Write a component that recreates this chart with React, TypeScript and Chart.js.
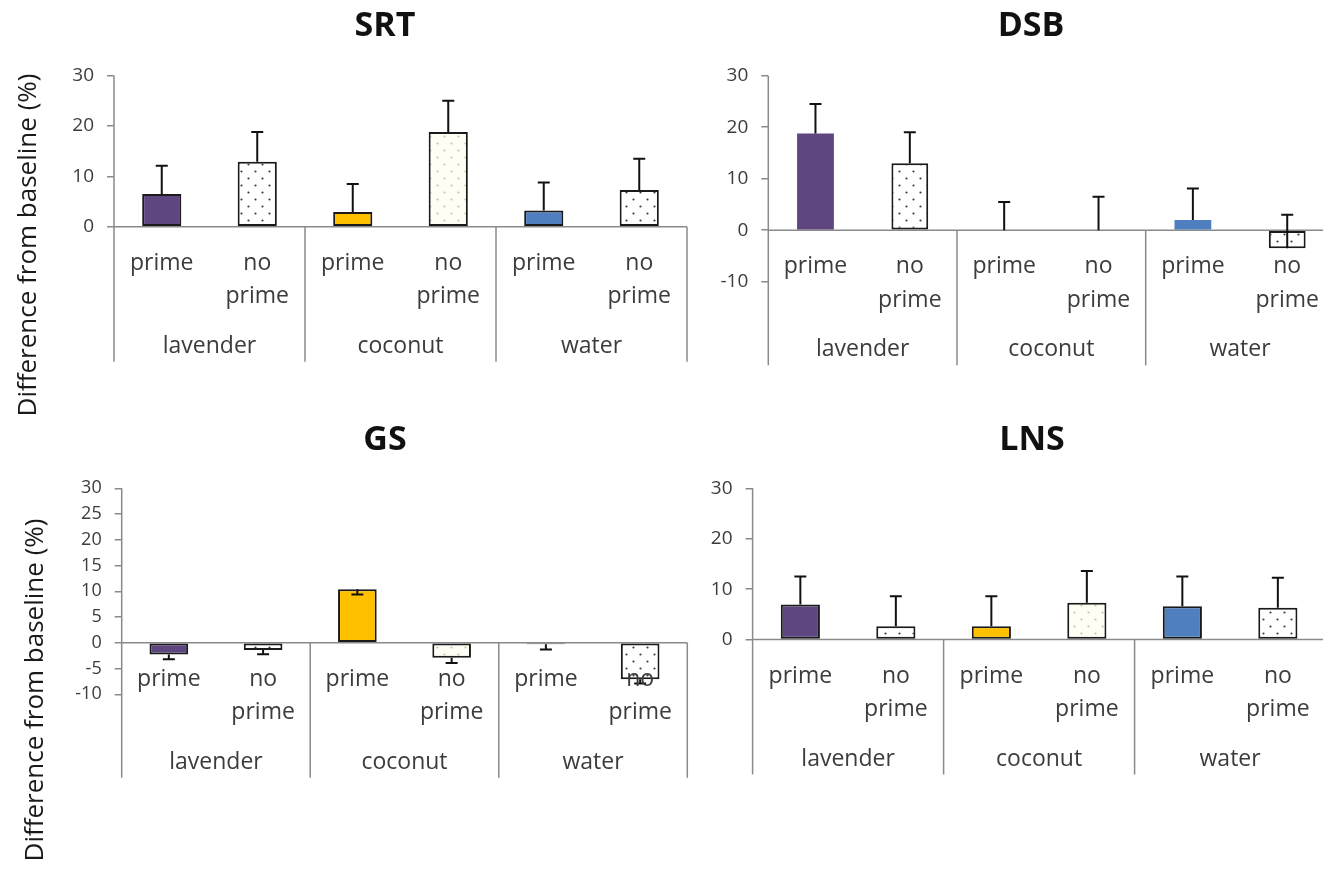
import React, { useEffect, useRef } from "react";
import { Chart, registerables } from "chart.js";

Chart.register(...registerables);

// ---------------- data ----------------
const categories = ["prime", "no prime", "prime", "no prime", "prime", "no prime"];
const groups = ["lavender", "coconut", "water"];
const yAxisTitle = "Difference from baseline (%)";

const srtValues = [6.5, 12.9, 2.9, 18.8, 3.2, 7.3];
const srtErrors = [5.6, 5.9, 5.6, 6.2, 5.6, 6.2];

const dsbValues = [18.8, 13.0, 0, 0, 2.0, -3.5];
const dsbErrors = [5.7, 6.0, 5.5, 6.5, 6.1, 6.5];

const gsValues = [-2.25, -1.4, 10.4, -2.9, -0.3, -7.1];
const gsErrors = [-0.95, -0.8, -1.0, -1.0, -1.0, -0.8];

const lnsValues = [6.95, 2.65, 2.65, 7.3, 6.6, 6.3];
const lnsErrors = [5.55, 5.95, 5.95, 6.3, 5.9, 5.95];

const srtTicks = { min: 0, max: 30, step: 10 };
const dsbTicks = { min: -10, max: 30, step: 10 };
const gsTicks = { min: -10, max: 30, step: 5 };
const lnsTicks = { min: 0, max: 30, step: 10 };

// ---------------- styles ----------------
const CW = 1400;
const CH = 880;
const YW = 80;
const FONT = "'Open Sans', sans-serif";
const AXIS = "#8a8a8a";
const TEXT = "#3c3c3c";
const PURPLE = "#5E4680";
const YELLOW = "#FFC000";
const BLUE = "#4F7FBE";
const DROP = 135;
const EDGE = "#1a1a1a";

type Panel = {
  title: string;
  values: number[];
  errors: number[];
  ticks: { min: number; max: number; step: number };
  tickFont: number;
  axisX: number;
  rightX: number;
  topY: number;
  bottomY: number;
  barPct: number;
  borderWidths: number[];
  titleX: number;
  titleY: number;
  yTitle?: { x: number; y: number };
};

const panels: Panel[] = [
  {
    title: "SRT", values: srtValues, errors: srtErrors, ticks: srtTicks, tickFont: 19,
    axisX: 114, rightX: 687, topY: 75.7, bottomY: 226.7, barPct: 0.41,
    borderWidths: [2, 2, 2, 2, 2, 2],
    titleX: 385, titleY: 26, yTitle: { x: 29, y: 245 },
  },
  {
    title: "DSB", values: dsbValues, errors: dsbErrors, ticks: dsbTicks, tickFont: 19,
    axisX: 768.3, rightX: 1334.4, topY: 75.7, bottomY: 281.7, barPct: 0.39,
    borderWidths: [0, 2, 0, 0, 0, 2],
    titleX: 1031, titleY: 26,
  },
  {
    title: "GS", values: gsValues, errors: gsErrors, ticks: gsTicks, tickFont: 18,
    axisX: 121.7, rightX: 687.3, topY: 488.3, bottomY: 694.3, barPct: 0.41,
    borderWidths: [2, 2, 2, 2, 2, 2],
    titleX: 385, titleY: 440, yTitle: { x: 36, y: 690 },
  },
  {
    title: "LNS", values: lnsValues, errors: lnsErrors, ticks: lnsTicks, tickFont: 19,
    axisX: 752.6, rightX: 1325.6, topY: 488.5, bottomY: 639.5, barPct: 0.41,
    borderWidths: [2, 2, 2, 2, 2, 2],
    titleX: 1032, titleY: 440,
  },
];

function dotPattern(bg: string, dot: string): CanvasPattern | string {
  const c = document.createElement("canvas");
  c.width = 14;
  c.height = 14;
  const g = c.getContext("2d");
  if (!g) return bg;
  g.fillStyle = bg;
  g.fillRect(0, 0, 14, 14);
  g.fillStyle = dot;
  g.beginPath();
  g.arc(3.5, 3.5, 1.1, 0, Math.PI * 2);
  g.arc(10.5, 10.5, 1.1, 0, Math.PI * 2);
  g.fill();
  const pat = g.createPattern(c, "repeat");
  return pat || bg;
}

function makePlugin(p: Panel) {
  return {
    id: "decor_" + p.title,
    beforeDatasetsDraw(chart: any) {
      const { ctx, chartArea, scales } = chart;
      const x = scales.x;
      const y = scales.y;
      const y0 = y.getPixelForValue(0);
      const n = categories.length;
      const step = x.getPixelForValue(1) - x.getPixelForValue(0);
      const left = x.getPixelForValue(0) - step / 2;
      const right = x.getPixelForValue(n - 1) + step / 2;
      ctx.save();
      ctx.strokeStyle = AXIS;
      ctx.lineWidth = 1.5;
      ctx.beginPath();
      ctx.moveTo(left, y0);
      ctx.lineTo(right, y0);
      ctx.moveTo(left, chartArea.top);
      ctx.lineTo(left, y0 + DROP);
      const per = n / groups.length;
      for (let g = 1; g <= groups.length; g++) {
        const xb = left + g * per * step;
        ctx.moveTo(xb, y0);
        ctx.lineTo(xb, y0 + DROP);
      }
      ctx.stroke();
      ctx.restore();
    },
    afterDatasetsDraw(chart: any) {
      const { ctx, scales } = chart;
      const x = scales.x;
      const y = scales.y;
      ctx.save();
      ctx.strokeStyle = "#111";
      ctx.lineWidth = 2;
      p.values.forEach((v, i) => {
        const xp = x.getPixelForValue(i);
        const yv = y.getPixelForValue(v);
        const ye = y.getPixelForValue(v + p.errors[i]);
        ctx.beginPath();
        ctx.moveTo(xp, yv);
        ctx.lineTo(xp, ye);
        ctx.moveTo(xp - 6, ye);
        ctx.lineTo(xp + 6, ye);
        ctx.stroke();
      });
      ctx.restore();
    },
    afterDraw(chart: any) {
      const { ctx, scales } = chart;
      const x = scales.x;
      const y = scales.y;
      const y0 = y.getPixelForValue(0);
      ctx.save();
      ctx.fillStyle = TEXT;
      ctx.textAlign = "center";
      ctx.textBaseline = "alphabetic";
      ctx.font = `23px ${FONT}`;
      categories.forEach((c, i) => {
        const xp = x.getPixelForValue(i);
        const lines = c.split(" ");
        lines.forEach((ln, k) => {
          ctx.fillText(ln, xp, y0 + 43 + k * 33.5);
        });
      });
      const per = categories.length / groups.length;
      groups.forEach((g, gi) => {
        const a = x.getPixelForValue(gi * per);
        const b = x.getPixelForValue(gi * per + per - 1);
        ctx.fillText(g, (a + b) / 2, y0 + 126);
      });
      // title
      ctx.fillStyle = "#111";
      ctx.font = `bold 34px ${FONT}`;
      ctx.textBaseline = "middle";
      ctx.fillText(p.title, p.titleX, p.titleY);
      if (p.yTitle) {
        ctx.save();
        ctx.translate(p.yTitle.x, p.yTitle.y);
        ctx.rotate(-Math.PI / 2);
        ctx.font = `26px ${FONT}`;
        ctx.fillStyle = "#1a1a1a";
        ctx.fillText(yAxisTitle, 0, 0);
        ctx.restore();
      }
      ctx.restore();
    },
  };
}

function PanelChart({ p }: { p: Panel }) {
  const ref = useRef<HTMLCanvasElement | null>(null);
  useEffect(() => {
    if (!ref.current) return;
    const fills = [
      PURPLE,
      dotPattern("#ffffff", "#3a3a3a"),
      YELLOW,
      dotPattern("#FFFEF4", "#C8C1A4"),
      BLUE,
      dotPattern("#ffffff", "#3a3a3a"),
    ];
    const chart = new Chart(ref.current, {
      type: "bar",
      data: {
        labels: categories,
        datasets: [
          {
            data: p.values,
            backgroundColor: fills as any,
            borderColor: EDGE,
            borderWidth: p.borderWidths,
            borderSkipped: false,
            barPercentage: p.barPct,
            categoryPercentage: 1,
          } as any,
        ],
      },
      options: {
        animation: false,
        responsive: false,
        devicePixelRatio: 1,
        events: [],
        layout: {
          padding: {
            left: p.axisX - YW,
            right: CW - p.rightX,
            top: p.topY,
            bottom: CH - p.bottomY,
          },
        },
        plugins: {
          legend: { display: false },
          tooltip: { enabled: false },
          title: { display: false },
        },
        scales: {
          x: { display: false },
          y: {
            min: p.ticks.min,
            max: p.ticks.max,
            afterFit: (s: any) => {
              s.width = YW;
            },
            ticks: {
              stepSize: p.ticks.step,
              autoSkip: false,
              padding: 13,
              color: TEXT,
              font: { family: FONT, size: p.tickFont },
            },
            grid: {
              drawOnChartArea: false,
              drawTicks: true,
              tickLength: 7,
              color: AXIS,
              lineWidth: 1.5,
            },
            border: { display: false },
          },
        },
      },
      plugins: [makePlugin(p)],
    } as any);
    return () => chart.destroy();
  }, [p]);
  return (
    <canvas
      ref={ref}
      width={CW}
      height={CH}
      style={{ position: "absolute", left: 0, top: 0, width: CW, height: CH }}
    />
  );
}

export default function App() {
  return (
    <div
      style={{
        position: "absolute",
        left: 0,
        top: 0,
        width: 1323,
        height: 880,
        overflow: "hidden",
        background: "#ffffff",
      }}
    >
      {panels.map((p) => (
        <PanelChart key={p.title} p={p} />
      ))}
    </div>
  );
}
